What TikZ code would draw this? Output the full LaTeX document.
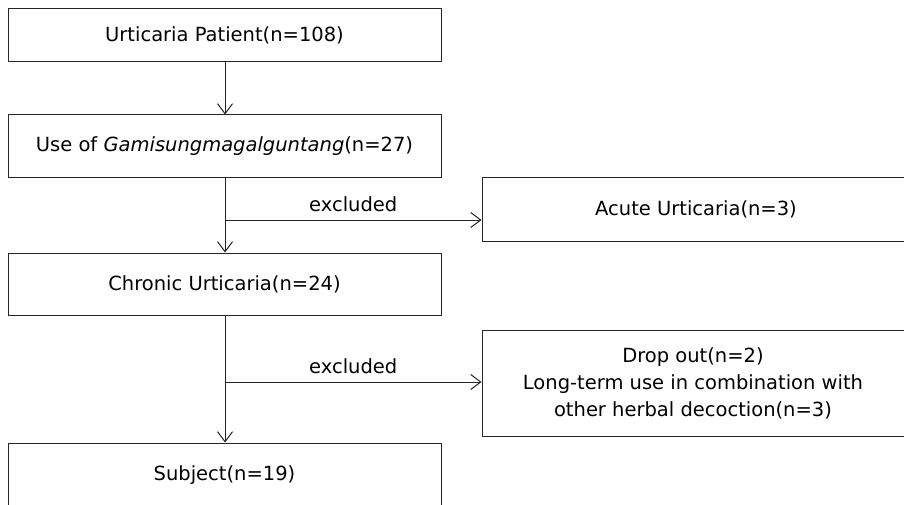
\documentclass[tikz,border=0pt]{standalone}
\usepackage{fontspec}
\setmainfont{DejaVu Sans}
\usetikzlibrary{arrows.meta}
\begin{document}
\begin{tikzpicture}[x=1pt,y=-1pt,
  box/.style={draw=black!85,line width=1pt,fill=white,inner sep=0pt,align=center,font=\fontsize{19.5}{27}\selectfont},
  arr/.style={draw=black!85,line width=1pt,-{Straight Barb[length=10pt,width=15pt,line width=1pt]}},
  lbl/.style={font=\fontsize{19.5}{22}\selectfont,inner sep=0pt}]
\clip (0,0) rectangle (904,505);
\fill[white] (0,0) rectangle (904,505);
\node[box,minimum width=433pt,minimum height=53pt] (b1) at (224.5,35.5) {Urticaria Patient(n=108)};
\node[box,minimum width=433pt,minimum height=63pt] (b2) at (224.5,146.5) {Use of \textit{Gamisungmagalguntang}(n=27)};
\node[box,minimum width=433pt,minimum height=62pt] (b4) at (224.5,284) {Chronic Urticaria(n=24)};
\node[box,minimum width=433pt,minimum height=90pt] (b6) at (224.5,488) {};
\node[font=\fontsize{19.5}{22}\selectfont] (t6) at (224.5,475) {Subject(n=19)};
\node[box,minimum width=428pt,minimum height=63pt] (b3) at (696,209.5) {Acute Urticaria(n=3)};
\node[box,minimum width=428pt,minimum height=106pt] (b5) at (696,383) {};
\node[font=\fontsize{19.5}{27}\selectfont,align=center] (t5) at (693,383) {Drop out(n=2)\\Long-term use in combination with\\other herbal decoction(n=3)};
\coordinate (j1) at (225,220);
\coordinate (j2) at (225,382);
\draw[arr] (b1.south -| j1) -- (b2.north -| j1);
\draw[arr] (b2.south -| j1) -- (b4.north -| j1);
\draw[arr] (j1) -- node[lbl,above=8pt] (e1) {excluded} (j1 -| b3.west);
\draw[arr] (b4.south -| j2) -- (b6.north -| j2);
\draw[arr] (j2) -- node[lbl,above=8pt] (e2) {excluded} (j2 -| b5.west);
\end{tikzpicture}
\end{document}
